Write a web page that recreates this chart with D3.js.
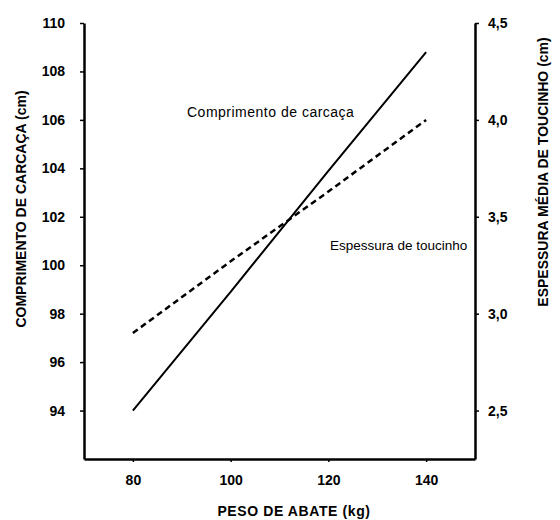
<!DOCTYPE html>
<html>
<head>
<meta charset="utf-8">
<script src="https://cdn.jsdelivr.net/npm/d3@7"></script>
<style>
  body { margin: 0; background: #fff; }
  svg { font-family: "Liberation Sans", Arial, Helvetica, sans-serif; }
</style>
</head>
<body>
<svg id="canvas" width="560" height="520"></svg>
<script>
// data
let pesoAbate = [80, 100, 120, 140];
let comprimento = [94.0, 98.9, 103.9, 108.8];   // cm, left axis
let espessura = [2.90, 3.27, 3.63, 4.00];        // cm, right axis
let xTicks = [80, 100, 120, 140];
let leftTicks = [94, 96, 98, 100, 102, 104, 106, 108, 110];
let rightTicks = [2.5, 3.0, 3.5, 4.0, 4.5];

let canvas = d3.select('#canvas');

let plotLeft = 84, plotRight = 475, plotTop = 23, plotBottom = 459;

let xScale = d3.scaleLinear().domain([70, 150]).range([plotLeft, plotRight]);
let yLeft = d3.scaleLinear().domain([92, 110]).range([plotBottom, plotTop]);
let yRight = d3.scaleLinear().domain([2.25, 4.5]).range([plotBottom, plotTop]);

let styleAxis = (g) => {
    g.select('.domain').attr('stroke', '#000').attr('stroke-width', 2.5);
    g.selectAll('.tick line').attr('stroke', '#000').attr('stroke-width', 1.5);
    g.selectAll('.tick text')
      .attr('fill', '#000')
      .style('font-size', '14px')
      .style('font-weight', 'bold');
};

canvas.append('g')
  .attr('transform', 'translate(0,' + plotBottom + ')')
  .call(d3.axisBottom(xScale).tickValues(xTicks).tickSize(3).tickSizeOuter(0).tickPadding(13))
  .call(styleAxis);

canvas.append('g')
  .attr('transform', 'translate(' + plotLeft + ',0)')
  .call(d3.axisLeft(yLeft).tickValues(leftTicks).tickSize(4).tickSizeOuter(0).tickPadding(15))
  .call(styleAxis);

canvas.append('g')
  .attr('transform', 'translate(' + plotRight + ',0)')
  .call(d3.axisRight(yRight).tickValues(rightTicks).tickSize(4).tickSizeOuter(0).tickPadding(9)
    .tickFormat((d) => d3.format('.1f')(d).replace('.', ',')))
  .call(styleAxis);

// lines
let solidLine = d3.line()
  .x((d, i) => xScale(pesoAbate[i]))
  .y((d) => yLeft(d));

let dashedLine = d3.line()
  .x((d, i) => xScale(pesoAbate[i]))
  .y((d) => yRight(d));

canvas.append('path')
  .datum(comprimento)
  .attr('d', solidLine)
  .attr('fill', 'none')
  .attr('stroke', '#000')
  .attr('stroke-width', 2);

canvas.append('path')
  .datum(espessura)
  .attr('d', dashedLine)
  .attr('fill', 'none')
  .attr('stroke', '#000')
  .attr('stroke-width', 2.5)
  .attr('stroke-dasharray', '6,4');

// labels on the lines
canvas.append('text')
  .text('Comprimento de carcaça')
  .attr('x', 187)
  .attr('y', 117)
  .style('font-size', '14px')
  .style('letter-spacing', '0.5px');

canvas.append('text')
  .text('Espessura de toucinho')
  .attr('x', 330)
  .attr('y', 250)
  .style('font-size', '13.5px');

// axis titles
canvas.append('text')
  .text('PESO DE ABATE (kg)')
  .attr('x', 294)
  .attr('y', 516)
  .attr('text-anchor', 'middle')
  .style('font-size', '14px')
  .style('font-weight', 'bold')
  .style('letter-spacing', '0.6px');

canvas.append('text')
  .text('COMPRIMENTO DE CARCAÇA (cm)')
  .attr('transform', 'translate(26,209) rotate(-90)')
  .attr('text-anchor', 'middle')
  .style('font-size', '14px')
  .style('font-weight', 'bold');

canvas.append('text')
  .text('ESPESSURA MÉDIA DE TOUCINHO (cm)')
  .attr('transform', 'translate(548,172) rotate(-90)')
  .attr('text-anchor', 'middle')
  .style('font-size', '14px')
  .style('font-weight', 'bold');
</script>
</body>
</html>
